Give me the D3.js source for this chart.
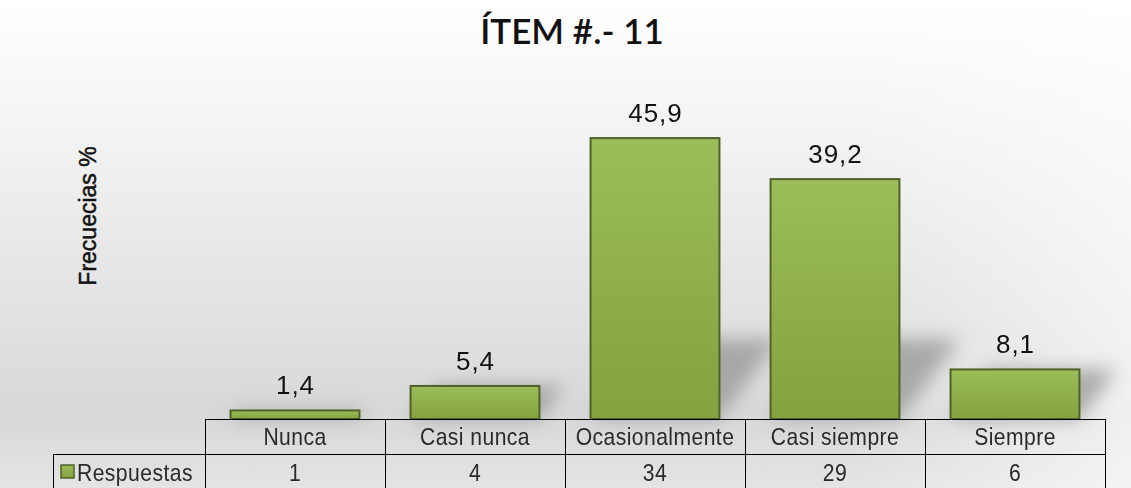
<!DOCTYPE html>
<html>
<head>
<meta charset="utf-8">
<script src="https://cdn.jsdelivr.net/npm/d3@7"></script>
<style>
  body { margin: 0; background: #fff; }
  svg { display: block; }
</style>
</head>
<body>
<div class="chart"></div>
<script>
// data
var categories = ["Nunca", "Casi nunca", "Ocasionalmente", "Casi siempre", "Siempre"];
var percents = [1.4, 5.4, 45.9, 39.2, 8.1];
var counts = [1, 4, 34, 29, 6];
var seriesName = "Respuestas";
var chartTitle = "ÍTEM #.- 11";
var yLabel = "Frecuecias %";

var svgWidth = 1131;
var svgHeight = 488;

var baseY = 419;      // top of the data table = bar baseline
var rowH = 35;

var svg = d3.select(".chart")
  .append("svg")
  .attr("width", svgWidth)
  .attr("height", svgHeight);

var defs = svg.append("defs");

// background: white at top, grey towards the bottom
var bg = defs.append("linearGradient")
  .attr("id", "bgGrad")
  .attr("x1", 0).attr("y1", 0).attr("x2", 0).attr("y2", 1);
bg.append("stop").attr("offset", "0%").attr("stop-color", "#ffffff");
bg.append("stop").attr("offset", "30%").attr("stop-color", "#f2f2f2");
bg.append("stop").attr("offset", "85%").attr("stop-color", "#d8d8d8");
bg.append("stop").attr("offset", "100%").attr("stop-color", "#e4e4e4");

var bgSide = defs.append("linearGradient")
  .attr("id", "bgSide")
  .attr("x1", 0).attr("y1", 0).attr("x2", 1).attr("y2", 0);
bgSide.append("stop").attr("offset", "75%").attr("stop-color", "#ffffff").attr("stop-opacity", 0);
bgSide.append("stop").attr("offset", "100%").attr("stop-color", "#ffffff").attr("stop-opacity", 0.6);

var barGrad = defs.append("linearGradient")
  .attr("id", "barGrad")
  .attr("x1", 0).attr("y1", 0).attr("x2", 0).attr("y2", 1);
barGrad.append("stop").attr("offset", "0%").attr("stop-color", "#9cbd5a");
barGrad.append("stop").attr("offset", "100%").attr("stop-color", "#84a23f");

defs.append("filter")
  .attr("id", "blur")
  .attr("x", "-50%").attr("y", "-50%").attr("width", "200%").attr("height", "200%")
  .append("feGaussianBlur")
  .attr("stdDeviation", 9);

svg.append("rect")
  .attr("width", svgWidth).attr("height", svgHeight)
  .attr("fill", "url(#bgGrad)");
svg.append("rect")
  .attr("width", svgWidth).attr("height", svgHeight)
  .attr("fill", "url(#bgSide)");

// scales
var xScale = d3.scaleBand()
  .domain(categories)
  .range([205, 1105])
  .paddingInner(0.284)
  .paddingOuter(0.142);

var yScale = d3.scaleLinear()
  .domain([0, 50])
  .range([baseY, baseY - 306]);

// title
svg.append("text")
  .attr("x", 572)
  .attr("y", 44)
  .attr("text-anchor", "middle")
  .style("font-family", "Lato, 'Open Sans', sans-serif")
  .style("font-size", "35px")
  .style("font-weight", "600")
  .attr("fill", "#111")
  .text(chartTitle);

// y axis label
svg.append("text")
  .attr("transform", "translate(96, 216) rotate(-90)")
  .attr("text-anchor", "middle")
  .style("font-family", "'Liberation Sans', Arial, sans-serif")
  .style("font-size", "23px")
  .attr("fill", "#111")
  .attr("stroke", "#111")
  .attr("stroke-width", 0.5)
  .text(yLabel);

// soft shadows behind the bars
var shadowG = svg.append("g").attr("filter", "url(#blur)");
shadowG.selectAll("path")
  .data(percents)
  .enter()
  .append("path")
  .attr("d", function (d, i) {
    var x0 = xScale(categories[i]);
    var x1 = x0 + xScale.bandwidth();
    var h = Math.min(baseY - yScale(d), 80);
    var dx = h * 0.75;
    return "M" + x0 + "," + baseY + "L" + x1 + "," + baseY +
      "L" + (x1 + dx) + "," + (baseY - h) + "L" + (x0 + dx) + "," + (baseY - h) + "Z";
  })
  .attr("fill", "#9a9a9a")
  .attr("opacity", 0.8);

// bars
svg.append("g")
  .selectAll("rect")
  .data(percents)
  .enter()
  .append("rect")
  .attr("x", function (d, i) { return xScale(categories[i]); })
  .attr("y", function (d) { return yScale(d); })
  .attr("width", xScale.bandwidth())
  .attr("height", function (d) { return baseY - yScale(d); })
  .attr("fill", "url(#barGrad)")
  .attr("stroke", "#4f6228")
  .attr("stroke-width", 2);

// value labels
svg.append("g")
  .selectAll("text")
  .data(percents)
  .enter()
  .append("text")
  .attr("x", function (d, i) { return xScale(categories[i]) + xScale.bandwidth() / 2 + 0.5; })
  .attr("y", function (d) { return yScale(d) - 16; })
  .attr("text-anchor", "middle")
  .style("font-family", "'Liberation Sans', Arial, sans-serif")
  .style("font-size", "26px")
  .style("letter-spacing", "1px")
  .attr("fill", "#111")
  .text(function (d) { return String(d).replace(".", ","); });

// data table under the bars
var tableFont = "'Liberation Sans', Arial, sans-serif";
var step = xScale.step();
var table = svg.append("g")
  .attr("fill", "none")
  .attr("stroke", "#000")
  .attr("stroke-width", 1);

var left = xScale.range()[0];
var right = xScale.range()[1];

table.append("line")
  .attr("x1", left).attr("x2", right)
  .attr("y1", baseY + 0.5).attr("y2", baseY + 0.5);
table.append("line")
  .attr("x1", 53).attr("x2", right)
  .attr("y1", baseY + rowH + 0.5).attr("y2", baseY + rowH + 0.5);
table.append("line")
  .attr("x1", 53.5).attr("x2", 53.5)
  .attr("y1", baseY + rowH).attr("y2", svgHeight);

table.selectAll("line.sep")
  .data(d3.range(categories.length + 1))
  .enter()
  .append("line")
  .attr("class", "sep")
  .attr("x1", function (i) { return Math.round(left + i * step) + 0.5; })
  .attr("x2", function (i) { return Math.round(left + i * step) + 0.5; })
  .attr("y1", baseY)
  .attr("y2", svgHeight);

// narrow-looking cell text: scaled horizontally around its anchor
function cellText(sel, x, y, anchor) {
  sel.attr("transform", function (d, i) {
      return "translate(" + x(d, i) + "," + y + ") scale(0.88,1)";
    })
    .attr("text-anchor", anchor)
    .style("font-family", tableFont)
    .style("font-size", "24px")
    .style("letter-spacing", "0.5px")
    .attr("fill", "#2a2a2a");
}

svg.append("g")
  .selectAll("text")
  .data(categories)
  .enter()
  .append("text")
  .call(cellText, function (d) { return xScale(d) + xScale.bandwidth() / 2; }, baseY + 26, "middle")
  .text(function (d) { return d; });

svg.append("g")
  .selectAll("text")
  .data(counts)
  .enter()
  .append("text")
  .call(cellText, function (d, i) { return xScale(categories[i]) + xScale.bandwidth() / 2; }, baseY + rowH + 27, "middle")
  .text(function (d) { return d; });

// legend key in the table
svg.append("rect")
  .attr("x", 61).attr("y", 465)
  .attr("width", 13).attr("height", 13)
  .attr("fill", "url(#barGrad)")
  .attr("stroke", "#4f6228")
  .attr("stroke-width", 1.5);

svg.append("g")
  .selectAll("text")
  .data([seriesName])
  .enter()
  .append("text")
  .call(cellText, function () { return 77; }, baseY + rowH + 27, "start")
  .text(function (d) { return d; });
</script>
</body>
</html>
